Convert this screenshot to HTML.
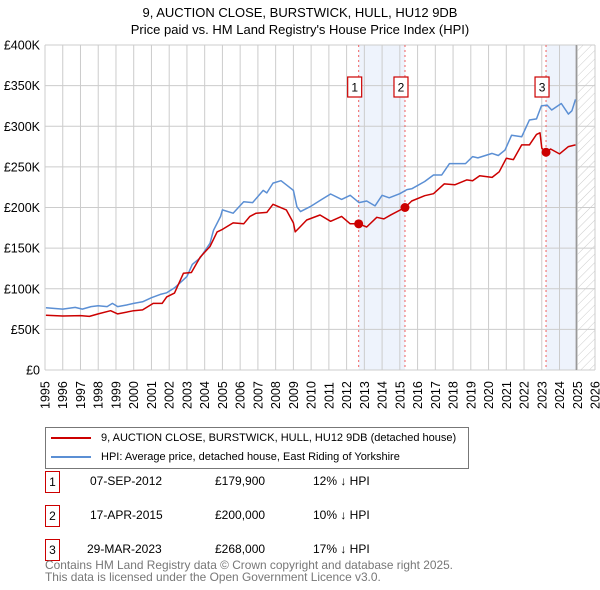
<!DOCTYPE html>
<html><head><meta charset="utf-8"><style>
body{margin:0;background:#fff;font-family:"Liberation Sans","DejaVu Sans",sans-serif;}
#wrap{position:relative;width:600px;height:590px;overflow:hidden}
.t{position:absolute;font-size:12px;color:#000;white-space:nowrap}
</style></head><body>
<div id="wrap">
<svg id="chart" width="600" height="590" style="position:absolute;left:0;top:0"></svg>
</div>
<script>
const yTicks=[0,50,100,150,200,250,300,350,400];
const yTickLabels=["£0","£50K","£100K","£150K","£200K","£250K","£300K","£350K","£400K"];
const xYears=[1995,1996,1997,1998,1999,2000,2001,2002,2003,2004,2005,2006,2007,2008,2009,2010,2011,2012,2013,2014,2015,2016,2017,2018,2019,2020,2021,2022,2023,2024,2025,2026];
const hpiT=[1995.05,1996,1996.7,1997.1,1997.6,1998,1998.5,1998.8,1999.1,1999.6,2000,2000.5,2001,2001.5,2001.86,2002.3,2003,2003.3,2003.74,2004.3,2004.5,2004.9,2005,2005.6,2006.2,2006.7,2007.3,2007.5,2007.85,2008.3,2008.6,2009,2009.2,2009.4,2009.94,2010.6,2011.1,2011.72,2012.2,2012.7,2013.13,2013.6,2014,2014.4,2015,2015.4,2015.67,2016.4,2016.9,2017.36,2017.8,2018.7,2019.1,2019.4,2020.2,2020.55,2020.93,2021.3,2021.87,2022.3,2022.7,2022.98,2023.3,2023.56,2024.1,2024.5,2024.7,2024.9];
const hpiV=[76.5,75,77,75,78,79,78,82,78,80,82,84,89,93,95,101,115,130,138,156,172,189,197,193,207,206,221,218,230,233,228,221,201,195,201,210,216.6,210,215,206,208,202,215,212,217,222,223,232,240,240,254,254,262.6,261,266.6,264,270.7,289,287,307.7,309,325,326,320,328,315,319,333,332];
const ppT=[1995.05,1996,1997,1997.5,1998,1998.7,1999.1,2000,2000.5,2001.1,2001.6,2001.86,2002.3,2002.8,2003.25,2003.75,2004.3,2004.7,2005,2005.6,2006.2,2006.55,2006.9,2007.5,2007.85,2008.6,2009,2009.1,2009.37,2009.75,2010.5,2011.1,2011.72,2012.2,2012.68,2013.13,2013.7,2014.1,2014.5,2015.29,2015.67,2016.4,2016.9,2017.5,2018.1,2018.77,2019.1,2019.5,2020.2,2020.6,2021,2021.4,2021.87,2022.3,2022.7,2022.9,2023.0,2023.24,2023.5,2024,2024.5,2024.9];
const ppV=[67.5,66.5,67,66,69,73,69,73,74,82,82,90,94.7,119,120,139,152,170,173,181,180,189,193,194,204,197,181,170,176,184.6,190.8,183,189,180,179.9,176,188,186,191,200,208,214.5,217,229,228,234,233,239,237,244,260.5,259,277,277,290,292,273,268,272,266,275,277];
const saleT=[2012.68,2015.29,2023.24];
const saleV=[179.9,200,268];
const saleLabels=["1","2","3"];
const x0=45,x1=595,y0=370,y1=45;
const X=t=>x0+(t-1995)*(x1-x0)/31;
const Y=v=>y0-v*(y0-y1)/400;
const NS="http://www.w3.org/2000/svg";
const svg=document.getElementById('chart');
function mk(tag,attrs,parent){const e=document.createElementNS(NS,tag);for(const k in attrs)e.setAttribute(k,attrs[k]);(parent||svg).appendChild(e);return e;}
const defs=mk('defs',{});
const pat=mk('pattern',{id:'hatch',width:6,height:6,patternUnits:'userSpaceOnUse',patternTransform:'rotate(45)'},defs);
mk('line',{x1:0,y1:0,x2:0,y2:6,stroke:'#ccc','stroke-width':1},pat);
let r=mk('rect',{x:X(saleT[0]),y:y1,width:X(saleT[1])-X(saleT[0]),height:y0-y1,fill:'#eef3fc'});

r=mk('rect',{x:X(saleT[2]),y:y1,width:X(2024.95)-X(saleT[2]),height:y0-y1,fill:'#eef3fc'});

r=mk('rect',{x:X(2024.95),y:y1,width:x1-X(2024.95),height:y0-y1,fill:'url(#hatch)'});

xYears.forEach(yr=>{const l=mk('line',{x1:X(yr),x2:X(yr),y1:y1,y2:y0,stroke:'#cccccc','stroke-width':1});

const t=mk('text',{x:0,y:0,transform:`translate(${X(yr)+4.5},${y0+39}) rotate(-90)`,'font-size':'12.5','font-family':'Liberation Sans, DejaVu Sans, sans-serif',fill:'#000'});t.textContent=yr;
});
yTicks.forEach((v,i)=>{const l=mk('line',{x1:x0,x2:x1,y1:Y(v),y2:Y(v),stroke:'#cccccc','stroke-width':1});

const t=mk('text',{x:x0-5,y:Y(v)+4.5,'text-anchor':'end','font-size':'12.5','font-family':'Liberation Sans, DejaVu Sans, sans-serif',fill:'#000'});t.textContent=yTickLabels[i];
});
let vl=mk('line',{x1:X(2024.95),x2:X(2024.95),y1:y1,y2:y0,stroke:'#999','stroke-width':1.5});

saleT.forEach((t,i)=>{const l=mk('line',{x1:X(t),x2:X(t),y1:y1,y2:y0,stroke:'#f06060','stroke-width':1,'stroke-dasharray':'2,3'});

const g=mk('g',{});
mk('rect',{x:X(t)-11,y:77,width:14,height:20,fill:'#fff',stroke:'#cc0000','stroke-width':1.2},g);
const tx=mk('text',{x:X(t)-4,y:91.5,'text-anchor':'middle','font-size':'12','font-family':'Liberation Sans, DejaVu Sans, sans-serif'},g);tx.textContent=saleLabels[i];});
function pathOf(T,V){return T.map((t,i)=>(i?'L':'M')+X(t).toFixed(1)+','+Y(V[i]).toFixed(1)).join('');}
let p=mk('path',{d:pathOf(hpiT,hpiV),fill:'none',stroke:'#5b8fd4','stroke-width':1.5,'stroke-linejoin':'round'});

p=mk('path',{d:pathOf(ppT,ppV),fill:'none',stroke:'#cc0000','stroke-width':1.5,'stroke-linejoin':'round'});

saleT.forEach((t,i)=>{const c=mk('circle',{cx:X(t),cy:Y(saleV[i]),r:4.5,fill:'#cc0000'});
});
</script>
<div class="t" style="left:0;width:600px;text-align:center;top:4px;font-size:13px;line-height:17px">9, AUCTION CLOSE, BURSTWICK, HULL, HU12 9DB<br>Price paid vs. HM Land Registry's House Price Index (HPI)</div>
<div style="position:absolute;left:45px;top:427px;width:424px;height:42px;border:1px solid #777;box-sizing:border-box">
 <div style="position:absolute;left:5px;top:4px;font-size:11px;white-space:nowrap"><span style="display:inline-block;width:40px;height:2px;background:#cc0000;vertical-align:middle;margin-right:10px"></span>9, AUCTION CLOSE, BURSTWICK, HULL, HU12 9DB (detached house)</div>
 <div style="position:absolute;left:5px;top:23px;font-size:11px;white-space:nowrap"><span style="display:inline-block;width:40px;height:2px;background:#5b8fd4;vertical-align:middle;margin-right:10px"></span>HPI: Average price, detached house, East Riding of Yorkshire</div>
</div>
<div>
 <div class="t" style="left:45px;top:471px;width:13px;height:20px;border:1px solid #cc0000;text-align:center;line-height:20px">1</div>
 <div class="t" style="left:90px;top:474px">07-SEP-2012</div>
 <div class="t" style="left:215px;top:474px">£179,900</div>
 <div class="t" style="left:313px;top:474px">12% ↓ HPI</div>
 <div class="t" style="left:45px;top:505px;width:13px;height:20px;border:1px solid #cc0000;text-align:center;line-height:20px">2</div>
 <div class="t" style="left:90px;top:508px">17-APR-2015</div>
 <div class="t" style="left:215px;top:508px">£200,000</div>
 <div class="t" style="left:313px;top:508px">10% ↓ HPI</div>
 <div class="t" style="left:45px;top:539px;width:13px;height:20px;border:1px solid #cc0000;text-align:center;line-height:20px">3</div>
 <div class="t" style="left:87px;top:542px">29-MAR-2023</div>
 <div class="t" style="left:215px;top:542px">£268,000</div>
 <div class="t" style="left:313px;top:542px">17% ↓ HPI</div>
</div>
<div class="t" style="left:45px;top:559px;color:#777;font-size:11.9px;line-height:12px">Contains HM Land Registry data © Crown copyright and database right 2025.<br>This data is licensed under the Open Government Licence v3.0.</div>
</body></html>
